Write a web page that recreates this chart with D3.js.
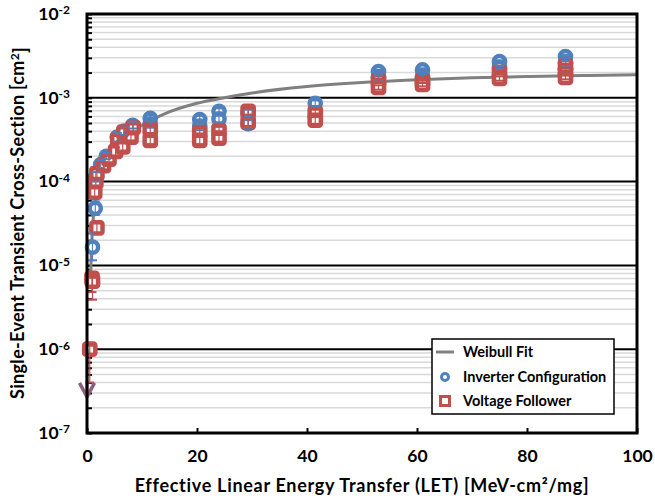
<!DOCTYPE html>
<html>
<head>
<meta charset="utf-8">
<script src="https://cdn.jsdelivr.net/npm/d3@7"></script>
<style>
  body { margin: 0; background: #fff; }
  text { font-family: Lato, "Open Sans", sans-serif; font-weight: 700; }
</style>
</head>
<body>
<div id="chart"></div>
<script>
// Size
var chartWidth  = 655;
var chartHeight = 498;

// Inverter Configuration: LET, cross-section, error low, error high
var invLET   = [1.0, 1.5, 1.6, 2.5, 3.5, 5.5, 6.8, 8.3, 11.5, 11.5, 20.5, 20.5, 24, 24, 29.3, 29.3, 41.5, 53, 53, 61, 61, 75, 75, 87, 87, 87];
var invSigma = [1.65e-5, 4.8e-5, 1.15e-4, 1.6e-4, 2.0e-4, 3.4e-4, 4.0e-4, 4.7e-4, 5.7e-4, 4.9e-4, 5.5e-4, 4.6e-4, 6.9e-4, 5.6e-4, 6.6e-4, 4.9e-4, 8.6e-4, 2.05e-3, 1.75e-3, 2.15e-3, 1.8e-3, 2.7e-3, 2.3e-3, 3.1e-3, 2.6e-3, 2.2e-3];
var invLo    = [1.15e-5, 4.0e-5, 1.0e-4, 1.45e-4, 1.85e-4, 3.0e-4, 3.6e-4, 4.3e-4, 5.2e-4, 4.4e-4, 4.9e-4, 4.1e-4, 6.3e-4, 5.1e-4, 6.0e-4, 4.4e-4, 7.9e-4, 1.95e-3, 1.65e-3, 2.05e-3, 1.7e-3, 2.6e-3, 2.2e-3, 2.95e-3, 2.45e-3, 2.1e-3];
var invHi    = [2.4e-5, 5.8e-5, 1.3e-4, 1.8e-4, 2.2e-4, 3.8e-4, 4.4e-4, 5.2e-4, 6.2e-4, 5.4e-4, 6.1e-4, 5.1e-4, 7.5e-4, 6.1e-4, 7.2e-4, 5.4e-4, 9.3e-4, 2.15e-3, 1.85e-3, 2.25e-3, 1.9e-3, 2.8e-3, 2.4e-3, 3.25e-3, 2.75e-3, 2.3e-3];

// Voltage Follower
var folLET   = [0.5, 0.9, 1.0, 1.8, 1.4, 1.6, 1.8, 3.0, 4.0, 5.2, 5.6, 6.5, 6.7, 8.0, 8.4, 11.5, 11.5, 20.5, 20.5, 24, 24, 29.3, 29.3, 41.5, 41.5, 53, 53, 61, 61, 75, 75, 87, 87, 87];
var folSigma = [1.0e-6, 7.0e-6, 6.5e-6, 2.8e-5, 7.5e-5, 1.0e-4, 1.25e-4, 1.55e-4, 1.85e-4, 2.3e-4, 3.2e-4, 2.6e-4, 3.9e-4, 3.4e-4, 4.4e-4, 4.2e-4, 3.1e-4, 3.9e-4, 3.1e-4, 4.1e-4, 3.3e-4, 6.9e-4, 5.1e-4, 6.6e-4, 5.4e-4, 1.6e-3, 1.33e-3, 1.6e-3, 1.45e-3, 2.0e-3, 1.7e-3, 2.4e-3, 2.0e-3, 1.75e-3];
var folLo    = [4.0e-7, 4.8e-6, 3.9e-6, 2.4e-5, 6.5e-5, 9.0e-5, 1.1e-4, 1.4e-4, 1.7e-4, 2.05e-4, 2.9e-4, 2.35e-4, 3.5e-4, 3.1e-4, 4.0e-4, 3.8e-4, 2.8e-4, 3.5e-4, 2.8e-4, 3.7e-4, 3.0e-4, 6.3e-4, 4.6e-4, 6.0e-4, 4.9e-4, 1.5e-3, 1.25e-3, 1.5e-3, 1.37e-3, 1.9e-3, 1.6e-3, 2.27e-3, 1.9e-3, 1.66e-3];
var folHi    = [1.1e-6, 7.6e-6, 7.1e-6, 3.2e-5, 8.5e-5, 1.1e-4, 1.4e-4, 1.7e-4, 2.0e-4, 2.55e-4, 3.5e-4, 2.85e-4, 4.3e-4, 3.7e-4, 4.8e-4, 4.6e-4, 3.4e-4, 4.3e-4, 3.4e-4, 4.5e-4, 3.6e-4, 7.5e-4, 5.6e-4, 7.2e-4, 5.9e-4, 1.7e-3, 1.41e-3, 1.7e-3, 1.53e-3, 2.1e-3, 1.8e-3, 2.53e-3, 2.1e-3, 1.84e-3];

// Upper limit arrow (no events seen)
var limitLET   = [0];
var limitSigma = [1.0e-6];
var limitTo    = [2.7e-7];

// Weibull fit
var fitLET   = [0.6, 1, 2, 3, 5, 7, 10, 14, 20, 25, 30, 40, 50, 60, 70, 80, 90, 100];
var fitSigma = [5.7e-6, 2.8e-5, 8.5e-5, 1.4e-4, 2.5e-4, 3.4e-4, 4.7e-4, 6.4e-4, 8.6e-4, 1.0e-3, 1.14e-3, 1.36e-3, 1.52e-3, 1.64e-3, 1.73e-3, 1.79e-3, 1.84e-3, 1.88e-3];

// Axis ticks
var xTicks  = [0, 20, 40, 60, 80, 100];
var decades = [1e-7, 1e-6, 1e-5, 1e-4, 1e-3, 1e-2];

var legendLabels = ['Weibull Fit', 'Inverter Configuration', 'Voltage Follower'];

var blue = '#4f81bd', red = '#c0504d', grey = '#808080', mauve = '#8c5f7c';

var x = d3.scaleLinear().domain([0, 100]).range([87, 637]);
var y = d3.scaleLog().domain([1e-7, 1e-2]).range([433, 14]);

var svg = d3.select('#chart')
    .append('svg')
    .attr('width', chartWidth)
    .attr('height', chartHeight);

// minor grid
var minor = y.ticks().filter(function(d){ return Math.abs(Math.log10(d) - Math.round(Math.log10(d))) > 1e-6; });
svg.append('g').selectAll('line')
    .data(minor)
    .enter()
    .append('line')
    .attr('x1', x(0)).attr('x2', x(100))
    .attr('y1', function(d){ return y(d); })
    .attr('y2', function(d){ return y(d); })
    .attr('stroke', '#d9d9d9')
    .attr('stroke-width', 1.5);

// major grid
svg.append('g').selectAll('line')
    .data(decades.slice(1, 5))
    .enter()
    .append('line')
    .attr('x1', x(0)).attr('x2', x(100))
    .attr('y1', function(d){ return y(d); })
    .attr('y2', function(d){ return y(d); })
    .attr('stroke', '#000')
    .attr('stroke-width', 2);

// y tick marks (inside)
svg.append('g')
    .attr('transform', 'translate(' + x(0) + ',0)')
    .call(d3.axisLeft(y).tickSizeInner(-5).tickSizeOuter(0).tickFormat(''))
    .call(function(g){
        g.select('.domain').remove();
        g.selectAll('line').attr('stroke-width', 2);
    });

// y labels 10^n
svg.append('g')
    .attr('transform', 'translate(' + x(0) + ',0)')
    .call(d3.axisLeft(y).tickValues(decades).tickSize(0).tickPadding(17).tickFormat(function(){ return ''; }))
    .call(function(g){
        g.select('.domain').remove();
        g.selectAll('text')
            .attr('font-size', 17.5)
            .attr('fill', '#000')
            .attr('dy', '0.3em')
            .each(function(d){
                var t = d3.select(this);
                t.append('tspan').text('10');
                t.append('tspan')
                    .attr('dy', '-0.45em')
                    .attr('font-size', 12)
                    .text(Math.round(Math.log10(d)));
            });
    });

// x axis
svg.append('g')
    .attr('transform', 'translate(0,' + y(1e-7) + ')')
    .call(d3.axisBottom(x).tickValues(xTicks).tickSizeInner(-5).tickSizeOuter(0).tickPadding(17))
    .call(function(g){
        g.select('.domain').remove();
        g.selectAll('line').attr('stroke-width', 2);
        g.selectAll('text').attr('font-size', 17.5).attr('fill', '#000')
            .style('font-family', 'Lato, sans-serif').style('font-weight', 700);
    });

// Weibull fit
var line = d3.line()
    .x(function(d){ return x(d[0]); })
    .y(function(d){ return y(d[1]); })
    .curve(d3.curveMonotoneX);
svg.append('path')
    .datum(d3.zip(fitLET, fitSigma))
    .attr('d', line)
    .attr('fill', 'none')
    .attr('stroke', grey)
    .attr('stroke-width', 3);

var inv = d3.range(invLET.length).map(function(i){ return {l: invLET[i], s: invSigma[i], lo: invLo[i], hi: invHi[i]}; });
var fol = d3.range(folLET.length).map(function(i){ return {l: folLET[i], s: folSigma[i], lo: folLo[i], hi: folHi[i]}; });

// markers
svg.append('g').selectAll('circle')
    .data(inv)
    .enter()
    .append('circle')
    .attr('cx', function(d){ return x(d.l); })
    .attr('cy', function(d){ return y(d.s); })
    .attr('r', 5.6)
    .attr('fill', '#fff')
    .attr('stroke', blue)
    .attr('stroke-width', 4.5);

svg.append('g').selectAll('rect')
    .data(fol)
    .enter()
    .append('rect')
    .attr('x', function(d){ return x(d.l) - 5.6; })
    .attr('y', function(d){ return y(d.s) - 5.6; })
    .attr('width', 11.2).attr('height', 11.2)
    .attr('rx', 2)
    .attr('fill', '#fff')
    .attr('stroke', red)
    .attr('stroke-width', 4.5);

// error bars
function errorBars(data, color){
    var g = svg.append('g').attr('stroke', color).attr('stroke-width', 2);
    var e = g.selectAll('g').data(data).enter().append('g');
    e.append('line')
        .attr('x1', function(d){ return x(d.l); }).attr('x2', function(d){ return x(d.l); })
        .attr('y1', function(d){ return y(d.lo); }).attr('y2', function(d){ return y(d.hi); })
        .attr('stroke-width', 1.2);
    e.append('line')
        .attr('x1', function(d){ return x(d.l) - 4.5; }).attr('x2', function(d){ return x(d.l) + 4.5; })
        .attr('y1', function(d){ return y(d.lo); }).attr('y2', function(d){ return y(d.lo); });
    e.append('line')
        .attr('x1', function(d){ return x(d.l) - 4.5; }).attr('x2', function(d){ return x(d.l) + 4.5; })
        .attr('y1', function(d){ return y(d.hi); }).attr('y2', function(d){ return y(d.hi); });
}
errorBars(inv, blue);
errorBars(fol, red);

// upper-limit arrow
limitLET.forEach(function(l, i){
    var ax = x(l), y0 = y(limitSigma[i]), y1 = y(limitTo[i]);
    svg.append('line')
        .attr('x1', ax).attr('x2', ax).attr('y1', y0).attr('y2', y1)
        .attr('stroke', mauve).attr('stroke-width', 3);
    svg.append('path')
        .attr('d', 'M' + (ax - 7.5) + ',' + (y1 - 14) + 'L' + ax + ',' + y1 + 'L' + (ax + 7.5) + ',' + (y1 - 14))
        .attr('fill', 'none').attr('stroke', mauve).attr('stroke-width', 3.5);
});

// plot frame
svg.append('rect')
    .attr('x', x(0)).attr('y', y(1e-2))
    .attr('width', x(100) - x(0)).attr('height', y(1e-7) - y(1e-2))
    .attr('fill', 'none')
    .attr('stroke', '#000')
    .attr('stroke-width', 3);

// axis titles
svg.append('text')
    .attr('x', 362).attr('y', 492)
    .attr('text-anchor', 'middle')
    .attr('font-size', 18)
    .attr('letter-spacing', 0.7)
    .text('Effective Linear Energy Transfer (LET) [MeV-cm\u00b2/mg]');

var yTitle = svg.append('text')
    .attr('transform', 'translate(24,223) rotate(-90)')
    .attr('text-anchor', 'middle')
    .attr('font-size', 18)
    .attr('letter-spacing', 0.3);
yTitle.append('tspan').text('Single-Event Transient Cross-Section [cm');
yTitle.append('tspan').attr('dy', '-0.45em').attr('font-size', 12).text('2');
yTitle.append('tspan').attr('dy', '0.45em').text(']');

// legend
var legend = svg.append('g').attr('transform', 'translate(432,339)');
legend.append('rect')
    .attr('width', 182).attr('height', 75)
    .attr('fill', '#fff').attr('stroke', '#000').attr('stroke-width', 1.5);
legend.append('line')
    .attr('x1', 4).attr('x2', 22).attr('y1', 13).attr('y2', 13)
    .attr('stroke', grey).attr('stroke-width', 3);
legend.append('circle')
    .attr('cx', 13).attr('cy', 38).attr('r', 3.5)
    .attr('fill', '#fff').attr('stroke', blue).attr('stroke-width', 3);
legend.append('rect')
    .attr('x', 8.5).attr('y', 57.5).attr('width', 9).attr('height', 9)
    .attr('fill', '#fff').attr('stroke', red).attr('stroke-width', 3);
legend.selectAll('text.lab')
    .data(legendLabels)
    .enter()
    .append('text')
    .attr('class', 'lab')
    .attr('x', 31)
    .attr('y', function(d, i){ return 13 + i * 24.5; })
    .attr('dy', '0.35em')
    .attr('font-size', 14.5)
    .text(function(d){ return d; });
</script>
</body>
</html>
